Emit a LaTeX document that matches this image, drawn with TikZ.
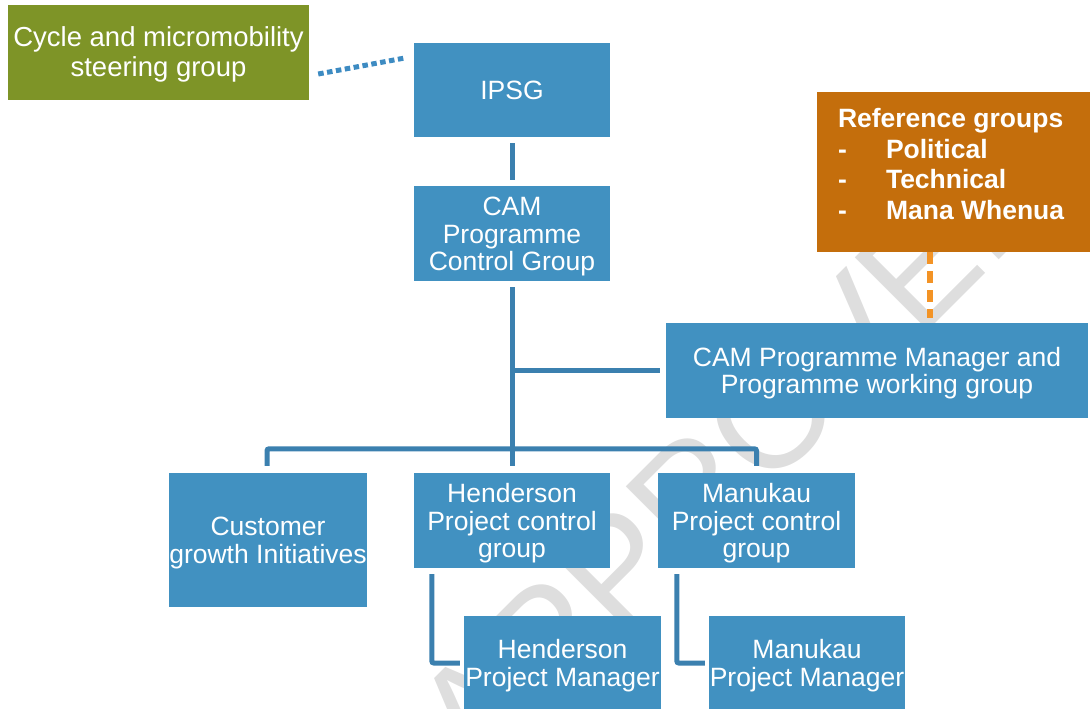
\documentclass[tikz,border=0pt]{standalone}
\usepackage{fontspec}
\setmainfont{Liberation Sans}
\usetikzlibrary{calc}

\definecolor{boxblue}{HTML}{4191C1}
\definecolor{linkblue}{HTML}{3B80AF}
\definecolor{dotblue}{HTML}{3D8BC2}
\definecolor{olive}{HTML}{7E9427}
\definecolor{refbrown}{HTML}{C46E0C}
\definecolor{refdash}{HTML}{F39325}
\definecolor{stampgrey}{HTML}{DEDEDE}

\newcommand\boxfont{\fontsize{26.5}{27.5}\selectfont}
\newcommand\steerfont{\fontsize{27.5}{30}\selectfont}
% invisible rules that centre the cap height of the lines in each box
\newcommand\tstr{\rule{0pt}{25pt}}
\newcommand\bstr{\rule[-6pt]{0pt}{6pt}}

\tikzset{
  box/.style={fill=boxblue, text=white, inner sep=0pt, align=center, font=\boxfont},
  greenbox/.style={box, fill=olive, font=\steerfont},
  refbox/.style={fill=refbrown, text=white, inner sep=0pt},
  conn/.style={draw=linkblue, line width=5pt, rounded corners=2pt},
  dotlink/.style={draw=dotblue, line width=5pt, dash pattern=on 5.5pt off 3.5pt},
  reflink/.style={draw=refdash, line width=6pt, dash pattern=on 12pt off 7pt},
  stamp/.style={text=stampgrey, inner sep=0pt, rotate=45, font=\fontsize{150}{150}\selectfont}
}

\begin{document}
\begin{tikzpicture}[x=1pt, y=-1pt]
\useasboundingbox (0,0) rectangle (1090,709);

% background stamp
\node[stamp] (stampmark) at (736,450) {APPROVED};

% boxes
\node[greenbox, minimum width=301pt, minimum height=95pt] (steer) at (158.5,52.5)
  {\tstr Cycle and micromobility\\steering group\bstr};
\node[box, minimum width=196pt, minimum height=94pt] (ipsg) at (512,90) {\tstr IPSG\bstr};
\node[box, minimum width=196pt, minimum height=95pt] (cpcg) at (512,233.5)
  {\tstr CAM\\Programme\\Control Group\bstr};
\node[box, minimum width=422pt, minimum height=95pt] (cpm) at (877,370.5)
  {\tstr CAM Programme Manager and\\Programme working group\bstr};
\node[box, minimum width=196pt, minimum height=134pt] (cgi) at (268,540)
  {\tstr Customer\\growth Initiatives\bstr};
\node[box, minimum width=196pt, minimum height=95pt] (hpcg) at (512,520.5)
  {\tstr Henderson\\Project control\\group\bstr};
\node[box, minimum width=197pt, minimum height=95pt] (mpcg) at (756.5,520.5)
  {\tstr Manukau\\Project control\\group\bstr};
\node[box, minimum width=197pt, minimum height=94pt] (hpm) at (562.5,663)
  {\tstr Henderson\\Project Manager\bstr};
\node[box, minimum width=196pt, minimum height=94pt] (mpm) at (807,663)
  {\tstr Manukau\\Project Manager\bstr};

\node[refbox, minimum width=273pt, minimum height=160pt] (refs) at (953.5,172) {%
  \begin{minipage}[c][160pt][t]{273pt}
    \raggedright\bfseries\fontsize{26.5}{30.7}\selectfont
    \vspace*{14pt}
    \hspace*{21pt}\strut Reference groups\par
    \hspace*{21pt}\strut\makebox[48pt][l]{-}Political\par
    \hspace*{21pt}\strut\makebox[48pt][l]{-}Technical\par
    \hspace*{21pt}\strut\makebox[48pt][l]{-}Mana Whenua\par
  \end{minipage}};

% connectors
\draw[dotlink] ($(steer.east)+(9,21.5)$) -- ($(ipsg.west)+(-9,-32)$);
\draw[conn] ($(ipsg.south)+(0,6)$) -- ($(cpcg.north)+(0,-6)$);
\draw[conn] ($(cpcg.south)+(0,6)$) -- ($(hpcg.north)+(0,-7)$);
\draw[conn] (cpcg.south |- cpm.west) -- ($(cpm.west)+(-6,0)$);
\draw[conn] ($(cgi.north)+(-1,-7)$) |- ($(hpcg.north)+(0,-24)$) -| ($(mpcg.north)+(0,-7)$);
\draw[conn] ($(hpcg.south west)+(18,6)$) |- ($(hpm.west)+(-4,0)$);
\draw[conn] ($(mpcg.south west)+(19,6)$) |- ($(mpm.west)+(-4,0)$);
\draw[reflink] ($(refs.south)+(-23.5,0)$) -- ($(cpm.north)+(53,-5)$);
\end{tikzpicture}
\end{document}
